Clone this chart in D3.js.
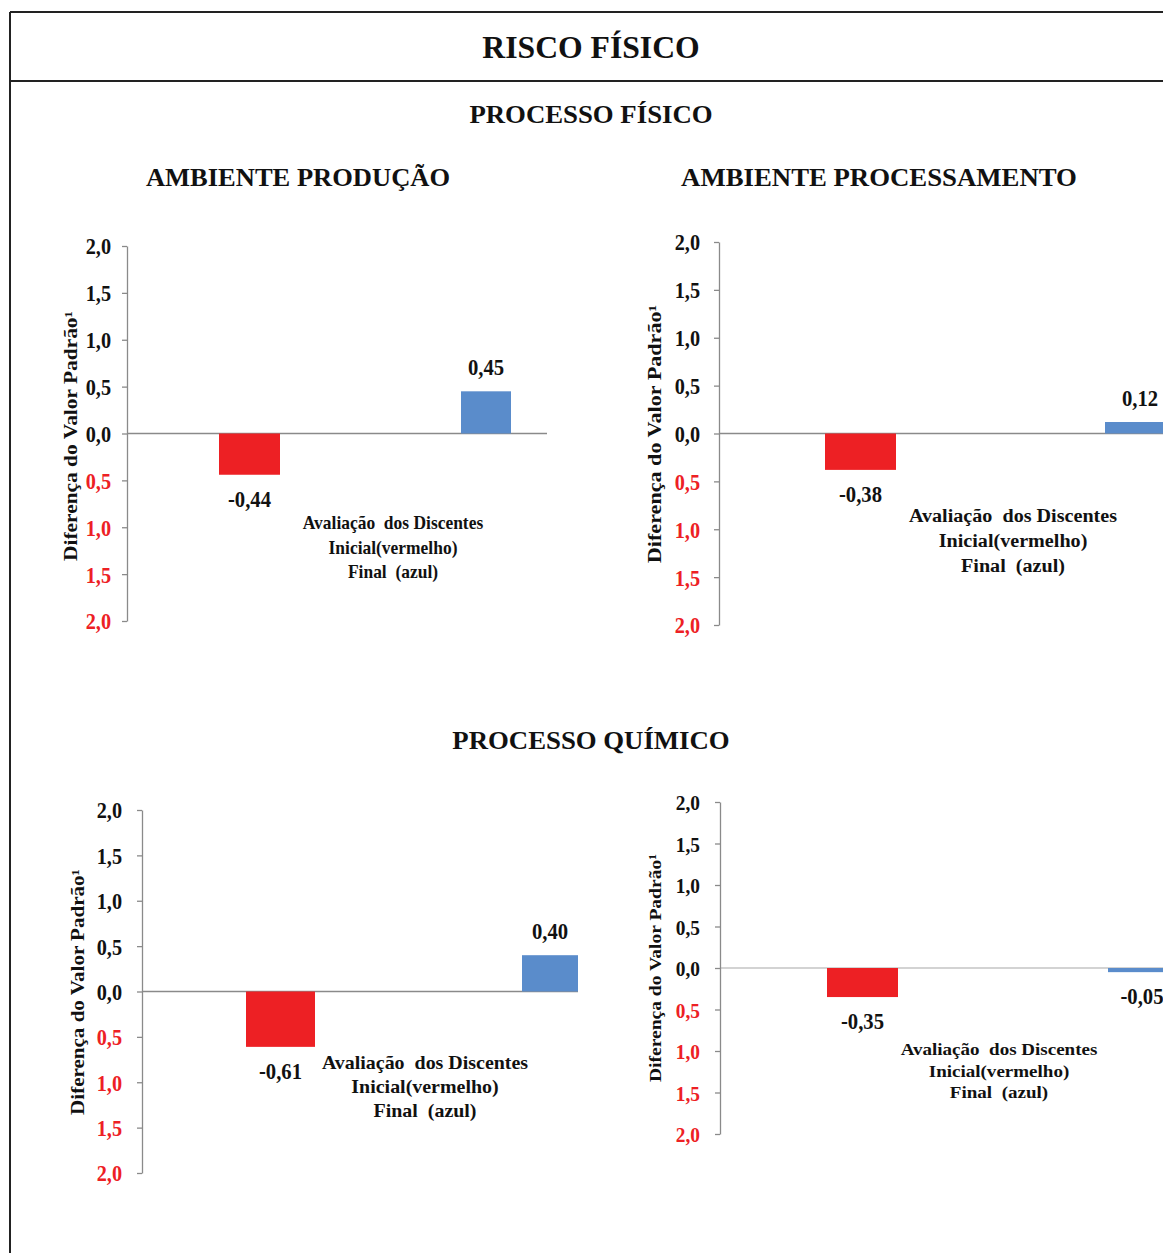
<!DOCTYPE html>
<html>
<head>
<meta charset="utf-8">
<script src="https://cdn.jsdelivr.net/npm/d3@7"></script>
<style>
  html, body { margin: 0; padding: 0; background: #fff; overflow: hidden; }
  svg { display: block; }
  text { font-family: "Liberation Serif", "Times New Roman", serif; font-weight: bold; }
</style>
</head>
<body>
<svg id="chart" width="1163" height="1253"></svg>
<script>
// Groups compared in every panel
const groups = ["Inicial (vermelho)", "Final (azul)"];

// Standard-value differences per panel
const fisicoProducao = [-0.44, 0.45];
const fisicoProcessamento = [-0.38, 0.12];
const quimicoProducao = [-0.61, 0.40];
const quimicoProcessamento = [-0.35, -0.05];

// Shared axis ticks
const yTicks = [2.0, 1.5, 1.0, 0.5, 0.0, -0.5, -1.0, -1.5, -2.0];
const yDomain = [-2, 2];

// Text
const mainTitle = "RISCO FÍSICO";
const sectionTitles = ["PROCESSO FÍSICO", "PROCESSO QUÍMICO"];
const panelTitles = ["AMBIENTE PRODUÇÃO", "AMBIENTE PROCESSAMENTO"];
const yAxisTitle = "Diferença do Valor Padrão¹";
const legendLines = ["Avaliação  dos Discentes", "Inicial(vermelho)", "Final  (azul)"];

const RED = "#ED2024";
const BLUE = "#5A8CCB";

const svg = d3.select("#chart");
const fmt = v => Math.abs(v).toFixed(1).replace(".", ",");
const fmtVal = v => v.toFixed(2).replace(".", ",");

// Text helper with horizontal scaling
function label(g, x, y, str, size, opts = {}) {
  const sx = opts.sx || 1;
  return g.append("text")
    .attr("transform", `translate(${x},${y})${opts.rotate ? " rotate(" + opts.rotate + ")" : ""} scale(${sx},1)`)
    .attr("text-anchor", opts.anchor || "middle")
    .attr("font-size", size)
    .attr("fill", opts.fill || "#111")
    .style("white-space", "pre")
    .text(str);
}

// Frame
svg.append("line").attr("x1", 10).attr("x2", 10).attr("y1", 12).attr("y2", 1253)
  .attr("stroke", "#222").attr("stroke-width", 2);
svg.append("line").attr("x1", 10).attr("x2", 1163).attr("y1", 12).attr("y2", 12)
  .attr("stroke", "#222").attr("stroke-width", 2);
svg.append("line").attr("x1", 10).attr("x2", 1163).attr("y1", 81).attr("y2", 81)
  .attr("stroke", "#222").attr("stroke-width", 2);

label(svg, 591, 58, mainTitle, 32, { sx: 0.99 });
label(svg, 591, 123, sectionTitles[0], 26, { sx: 1.03 });
label(svg, 591, 749, sectionTitles[1], 26, { sx: 1.03 });
label(svg, 298, 186, panelTitles[0], 26, { sx: 1.02 });
label(svg, 879, 186, panelTitles[1], 26, { sx: 1.03 });

// Panel layouts
const panels = [
  { data: fisicoProducao, axisX: 127, top: 246, bottom: 621, centers: [249.5, 486], widths: [61, 50],
    zeroEnd: 547, pad: 11, tickFont: 22.5, titleX: 77, titleY: 436, titleFont: 18, titleSx: 1.19,
    legendX: 393, legendY: [529, 554, 578], legendFont: 18, legendSx: 0.97, zeroColor: "#8a8a8a" },
  { data: fisicoProcessamento, axisX: 719, top: 242, bottom: 625, centers: [860.5, 1140], widths: [71, 70],
    zeroEnd: 1200, pad: 14, tickFont: 22.5, titleX: 661, titleY: 434, titleFont: 18, titleSx: 1.23,
    legendX: 1013, legendY: [522, 547, 572], legendFont: 19, legendSx: 1.06, zeroColor: "#8a8a8a" },
  { data: quimicoProducao, axisX: 142, top: 810, bottom: 1173, centers: [280.5, 550], widths: [69, 56],
    zeroEnd: 578, pad: 15, tickFont: 22.5, titleX: 84, titleY: 992, titleFont: 18, titleSx: 1.17,
    legendX: 425, legendY: [1069, 1093, 1117], legendFont: 19, legendSx: 1.05, zeroColor: "#8a8a8a" },
  { data: quimicoProcessamento, axisX: 720, top: 802, bottom: 1134, centers: [862.5, 1142], widths: [71, 68],
    zeroEnd: 1200, pad: 15, tickFont: 21.5, titleX: 661, titleY: 968, titleFont: 17, titleSx: 1.15,
    legendX: 999, legendY: [1055, 1077, 1098], legendFont: 17, legendSx: 1.12, zeroColor: "#c4c4c4" }
];

const TICK_SX = 0.9;

panels.forEach(p => {
  const g = svg.append("g");
  const y = d3.scaleLinear().domain(yDomain).range([p.bottom, p.top]);
  const x = d3.scalePoint().domain(groups).range(p.centers);

  // Zero line
  g.append("line")
    .attr("x1", p.axisX).attr("x2", p.zeroEnd)
    .attr("y1", y(0)).attr("y2", y(0))
    .attr("stroke", p.zeroColor).attr("stroke-width", 1.3);

  // Bars
  g.selectAll("rect.bar").data(p.data).join("rect")
    .attr("class", "bar")
    .attr("x", (d, i) => x(groups[i]) - p.widths[i] / 2)
    .attr("width", (d, i) => p.widths[i])
    .attr("y", d => Math.min(y(d), y(0)))
    .attr("height", d => Math.abs(y(d) - y(0)))
    .attr("fill", (d, i) => i === 0 ? RED : BLUE);

  // Value labels
  p.data.forEach((d, i) => {
    const ly = d >= 0 ? y(d) - 16 : y(d) + 32;
    label(g, x(groups[i]), ly, fmtVal(d), 22.5, { sx: 0.92 });
  });

  // Vertical axis
  const axis = d3.axisLeft(y).tickValues(yTicks).tickSize(5).tickSizeOuter(0)
    .tickPadding(p.pad).tickFormat(fmt);
  const ag = g.append("g").attr("transform", `translate(${p.axisX},0)`).call(axis);
  ag.select(".domain").attr("stroke", "#8a8a8a").attr("stroke-width", 1.3);
  ag.selectAll(".tick line").attr("stroke", "#8a8a8a").attr("stroke-width", 1.3);
  ag.selectAll(".tick text")
    .attr("font-size", p.tickFont)
    .attr("font-family", "Liberation Serif, serif")
    .attr("font-weight", "bold")
    .attr("fill", d => d < 0 ? RED : "#111")
    .attr("dy", "0.35em")
    .attr("transform", `scale(${TICK_SX},1)`)
    .attr("x", -(5 + p.pad) / TICK_SX);

  // Axis title
  label(g, p.titleX, p.titleY, yAxisTitle, p.titleFont, { rotate: -90, sx: p.titleSx });

  // Legend note
  legendLines.forEach((s, i) => {
    label(g, p.legendX, p.legendY[i], s, p.legendFont, { sx: p.legendSx });
  });
});
</script>
</body>
</html>
